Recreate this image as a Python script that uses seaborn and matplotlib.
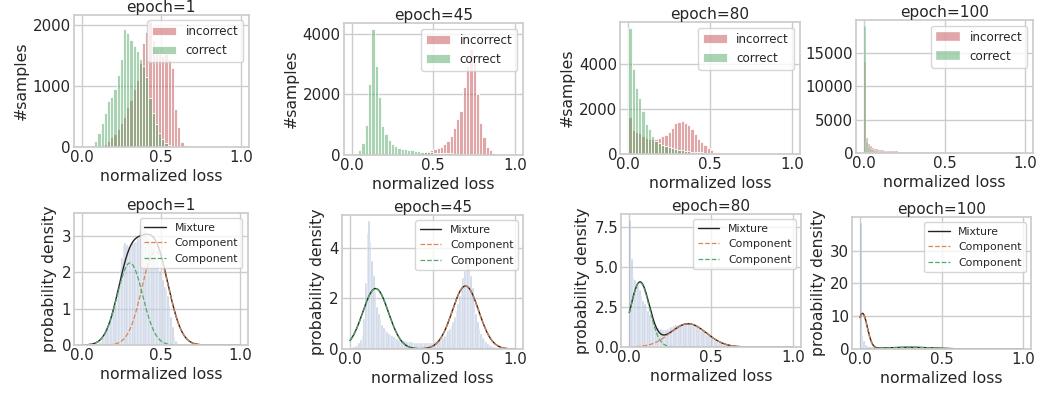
import numpy as np
import pandas as pd
import matplotlib
matplotlib.use("Agg")
import matplotlib.pyplot as plt
import seaborn as sns

# ---------------- data ----------------
epochs = [1, 45, 80, 100]

# top row: counts per bin (bins of width 0.02 on [0, 1]; epoch 100 uses 0.0125 on [0, 0.625])
top_bin_width = [0.02, 0.02, 0.02, 0.0125]

incorrect_e1 = [0, 0, 0, 0, 0, 0, 20, 50, 100, 170, 220, 300, 400, 500, 650, 770, 950, 1100, 1380, 1700,
                1880, 2070, 1750, 1600, 1550, 1500, 1550, 1450, 1300, 620, 330, 80, 25, 8, 0, 0, 0, 0, 0, 0,
                0, 0, 0, 0, 0, 0, 0, 0, 0, 0]
correct_e1 = [0, 0, 0, 30, 100, 230, 400, 560, 760, 820, 950, 1180, 1450, 1930, 1870, 1760, 1650, 1580, 1450, 1330,
              1150, 800, 550, 380, 230, 130, 70, 30, 10, 0, 0, 0, 0, 0, 0, 0, 0, 0, 0, 0,
              0, 0, 0, 0, 0, 0, 0, 0, 0, 0]

incorrect_e45 = [0, 0, 0, 0, 0, 0, 0, 0, 0, 0, 20, 22, 24, 26, 28, 30, 32, 35, 38, 40,
                 60, 80, 100, 130, 170, 200, 230, 270, 350, 450, 620, 900, 1200, 1450, 2250, 2950, 3500, 3300, 2000, 1050,
                 600, 280, 160, 80, 40, 20, 10, 0, 0, 0]
correct_e45 = [0, 40, 150, 400, 1000, 2350, 4150, 2950, 1900, 950, 700, 480, 360, 290, 240, 210, 190, 170, 150, 140,
               125, 110, 100, 95, 90, 80, 70, 65, 60, 55, 50, 45, 45, 40, 40, 35, 35, 30, 25, 20,
               15, 10, 8, 5, 0, 0, 0, 0, 0, 0]

incorrect_e80 = [1650, 1080, 1000, 930, 800, 730, 680, 650, 680, 720, 780, 860, 1000, 1150, 1370, 1420, 1450, 1400, 1280, 1100,
                 880, 680, 520, 380, 260, 160, 110, 70, 50, 35, 25, 20, 15, 10, 8, 5, 4, 3, 2, 0,
                 0, 0, 0, 0, 0, 0, 0, 0, 0, 0]
correct_e80 = [5600, 3770, 2950, 2500, 1900, 1350, 1100, 800, 600, 480, 400, 340, 290, 250, 220, 190, 170, 150, 130, 110,
               95, 80, 70, 60, 50, 40, 30, 25, 20, 15, 10, 8, 5, 3, 2, 0, 0, 0, 0, 0,
               0, 0, 0, 0, 0, 0, 0, 0, 0, 0]

incorrect_e100 = [13600, 2250, 1400, 1000, 800, 650, 560, 500, 450, 400, 370, 340, 310, 290, 270, 250, 230, 210, 200, 190,
                  180, 170, 160, 150, 140, 130, 120, 110, 100, 95, 90, 85, 80, 75, 70, 65, 60, 55, 50, 45,
                  40, 35, 30, 28, 25, 22, 20, 18, 15, 12]
correct_e100 = [19000, 1600, 900, 600, 400, 300, 230, 180, 150, 120, 100, 90, 80, 70, 60, 50, 45, 40, 35, 30,
                28, 25, 22, 20, 18, 15, 12, 10, 8, 6, 0, 0, 0, 0, 0, 0, 0, 0, 0, 0,
                0, 0, 0, 0, 0, 0, 0, 0, 0, 0]

# bottom row: density per bin (100 bins of width 0.01 on [0, 1])
density_e1 = ([0] * 9 +
              [0.02, 0.04, 0.08, 0.12, 0.18, 0.25, 0.35, 0.46, 0.58, 0.72, 0.83,
               0.98, 1.1, 1.3, 1.5, 2.1, 2.4, 2.75, 2.8, 2.75, 2.72,
               2.7, 2.78, 2.8, 2.83, 2.86, 2.95, 3.14, 3.3, 3.46, 3.3,
               3.1, 3.0, 2.95, 2.9, 2.85, 2.8, 2.6, 2.4, 2.2, 2.05,
               1.9, 1.8, 1.6, 1.52, 1.34, 1.1, 0.78, 0.5, 0.23, 0.1,
               0.05, 0.02] + [0] * 38)
density_e45 = [0.02, 0.05, 0.08, 0.12, 0.17, 0.25, 0.35, 0.55, 1.2, 2.6,
               4.6, 5.05, 4.25, 3.5, 2.9, 2.25, 1.65, 1.4, 1.17, 0.95,
               0.85, 0.75, 0.68, 0.6, 0.55, 0.5, 0.46, 0.43, 0.4, 0.37,
               0.35, 0.33, 0.31, 0.3, 0.29, 0.28, 0.27, 0.26, 0.25, 0.25,
               0.24, 0.24, 0.23, 0.23, 0.22, 0.22, 0.23, 0.23, 0.24, 0.25,
               0.27, 0.29, 0.31, 0.33, 0.36, 0.4, 0.45, 0.52, 0.6, 0.7,
               0.8, 0.92, 1.05, 1.25, 1.5, 1.8, 2.1, 2.5, 2.8, 3.1,
               3.45, 3.6, 3.3, 2.9, 2.4, 1.8, 1.4, 1.05, 0.8, 0.6,
               0.45, 0.35, 0.27, 0.2, 0.15, 0.11, 0.08, 0.06, 0.04, 0.03,
               0.02, 0.01, 0, 0, 0, 0, 0, 0, 0, 0]
density_e80 = [7.9, 5.5, 4.3, 4.2, 4.0, 3.8, 3.55, 3.2, 2.85, 2.7,
               2.45, 2.25, 2.0, 1.8, 1.65, 1.45, 1.3, 1.18, 1.12, 1.1,
               1.08, 1.06, 1.08, 1.12, 1.18, 1.22, 1.27, 1.3, 1.35, 1.38,
               1.4, 1.43, 1.45, 1.48, 1.5, 1.48, 1.45, 1.4, 1.37, 1.33,
               1.28, 1.22, 1.15, 1.08, 1.0, 0.92, 0.84, 0.76, 0.68, 0.6,
               0.52, 0.45, 0.38, 0.32, 0.27, 0.22, 0.18, 0.15, 0.12, 0.1,
               0.08, 0.06, 0.05, 0.04, 0.03, 0.03, 0.02, 0.02, 0.01, 0.01] + [0] * 30
density_e100 = [38.3, 4.3, 2.3, 1.3, 0.9, 0.7, 0.6, 0.5, 0.45, 0.42,
                0.4, 0.38, 0.36, 0.35, 0.34, 0.33, 0.32, 0.31, 0.3, 0.3,
                0.29, 0.29, 0.28, 0.28, 0.27, 0.27, 0.26, 0.26, 0.25, 0.25,
                0.24, 0.24, 0.23, 0.23, 0.22, 0.22, 0.21, 0.21, 0.2, 0.2,
                0.19, 0.19, 0.18, 0.18, 0.17, 0.17, 0.16, 0.16, 0.15, 0.15,
                0.14, 0.13, 0.13, 0.12, 0.11, 0.11, 0.1, 0.09, 0.09, 0.08,
                0.05, 0.03, 0.01] + [0] * 37

# two-component gaussian mixture fits: (orange component, green component)
gmm_means = [(0.465, 0.305), (0.70, 0.155), (0.36, 0.065), (0.015, 0.30)]
gmm_sigmas = [(0.085, 0.080), (0.080, 0.078), (0.110, 0.058), (0.030, 0.15)]
gmm_weights = [(0.55, 0.453), (0.50, 0.468), (0.40, 0.585), (0.81, 0.20)]

top_yticks = [[0, 1000, 2000], [0, 2000, 4000], [0, 2000, 4000], [0, 5000, 10000, 15000]]
bottom_yticks = [[0, 1, 2, 3], [0, 2, 4], [0.0, 2.5, 5.0, 7.5], [0, 10, 20, 30]]
xticks = [0.0, 0.5, 1.0]

incorrect_all = [incorrect_e1, incorrect_e45, incorrect_e80, incorrect_e100]
correct_all = [correct_e1, correct_e45, correct_e80, correct_e100]
density_all = [density_e1, density_e45, density_e80, density_e100]

# ---------------- style ----------------
sns.set_theme(style="whitegrid")
plt.rcParams["font.family"] = ["DejaVu Sans"]
pal = sns.color_palette("deep")
C_INC, C_COR, C_BLUE, C_ORANGE = pal[3], pal[2], pal[0], pal[1]

W, H = 1045, 394
fig = plt.figure(figsize=(W / 100, H / 100), dpi=100)


def add_ax(x0, x1, top, bottom):
    # x0/x1: pixel position of data 0 and 1 (xlim -0.05..1.05)
    span = x1 - x0
    left = x0 - 0.05 * span
    width = 1.1 * span
    return fig.add_axes([left / W, (H - bottom) / H, width / W, (bottom - top) / H])


top_pos = [(81.5, 241, 14.5, 147), (351.7, 515, 23, 155), (628.3, 791.7, 22, 154), (864, 1025, 20, 153)]
bot_pos = [(81.7, 240, 213, 345), (350, 515, 215, 349), (629.3, 793, 214, 347), (860, 1023.3, 217, 349)]

LBL = 11.3
TCK = 10.8


def hist(ax, values, bw, **kw):
    n = len(values)
    centers = (np.arange(n) + 0.5) * bw
    df = pd.DataFrame({"x": centers, "w": np.asarray(values, dtype=float)})
    sns.histplot(data=df, x="x", weights="w", binwidth=bw, binrange=(0, n * bw), ax=ax, **kw)


def decorate(ax, ep, yticks, ylabel):
    ax.set_xlim(-0.05, 1.05)
    ax.set_xticks(xticks)
    ax.set_yticks(yticks)
    ax.set_title(f"epoch={ep}", fontsize=11.1, pad=2)
    ax.set_xlabel("normalized loss", fontsize=LBL, labelpad=3)
    ax.set_ylabel(ylabel, fontsize=LBL, labelpad=3)
    ax.tick_params(labelsize=TCK, pad=2, length=0)


for i, ep in enumerate(epochs):
    # ---- top row ----
    ax = add_ax(*top_pos[i])
    bw = top_bin_width[i]
    lw = 0.6 if bw >= 0.02 else 0.25
    hist(ax, incorrect_all[i], bw, color=C_INC, alpha=0.5, edgecolor="white", linewidth=lw,
         label="incorrect")
    hist(ax, correct_all[i], bw, color=C_COR, alpha=0.5, edgecolor="white", linewidth=lw,
         label="correct")
    decorate(ax, ep, top_yticks[i], "#samples" if i < 3 else "")
    ax.legend(loc="upper right", fontsize=8.6)

    # ---- bottom row ----
    ax = add_ax(*bot_pos[i])
    hist(ax, density_all[i], 0.01, color=C_BLUE, alpha=0.3, edgecolor="white", linewidth=0.3)
    xs = np.linspace(0, 1, 500)
    comps = []
    for m, s, w in zip(gmm_means[i], gmm_sigmas[i], gmm_weights[i]):
        comps.append(w * np.exp(-0.5 * ((xs - m) / s) ** 2) / (s * np.sqrt(2 * np.pi)))
    mix = comps[0] + comps[1]
    sns.lineplot(x=xs, y=mix, color="#222222", linewidth=1.0, label="Mixture", ax=ax)
    sns.lineplot(x=xs, y=comps[0], color=C_ORANGE, linewidth=0.9, linestyle="--", label="Component", ax=ax)
    sns.lineplot(x=xs, y=comps[1], color=C_COR, linewidth=0.9, linestyle="--", label="Component", ax=ax)
    decorate(ax, ep, bottom_yticks[i], "probability density")
    ax.legend(loc="upper right", fontsize=7.8)

fig.savefig("out.png", dpi=100)
